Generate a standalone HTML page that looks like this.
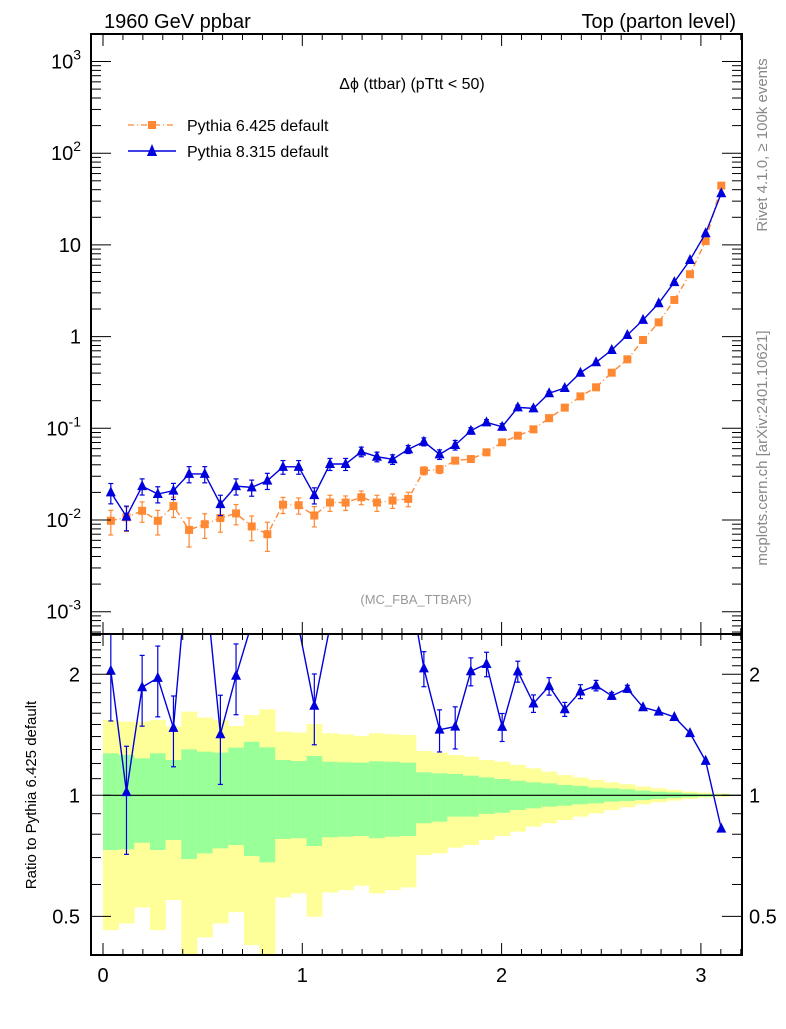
<!DOCTYPE html>
<html><head><meta charset="utf-8"><style>
body{margin:0;background:#fff}
svg text{font-family:"Liberation Sans",sans-serif}
</style></head><body>
<svg id="chart" xmlns="http://www.w3.org/2000/svg" width="786" height="1024" viewBox="0 0 786 1024">
<text x="104" y="28" font-size="20">1960 GeV ppbar</text>
<text x="736" y="28" font-size="20" text-anchor="end">Top (parton level)</text>
<text x="412" y="89" font-size="16" text-anchor="middle">Δϕ (ttbar) (pTtt &lt; 50)</text>
<text x="416" y="604" font-size="13" fill="#999" text-anchor="middle">(MC_FBA_TTBAR)</text>
<text transform="translate(767,145) rotate(-90)" font-size="15" fill="#888" text-anchor="middle">Rivet 4.1.0, ≥ 100k events</text>
<text transform="translate(767,448) rotate(-90)" font-size="15" fill="#888" text-anchor="middle">mcplots.cern.ch [arXiv:2401.10621]</text>
<text transform="translate(36,795) rotate(-90)" font-size="15" text-anchor="middle">Ratio to Pythia 6.425 default</text>
<g id="legend">
 <g>
  <line x1="128" y1="125" x2="176" y2="125" stroke="#ff8833" stroke-width="1.3" stroke-dasharray="6,3,1,3"/>
  <rect x="148" y="121" width="8" height="8" fill="#ff8833"/>
  <text x="187" y="131" font-size="16">Pythia 6.425 default</text>
 </g>
 <g>
  <line x1="128" y1="151" x2="176" y2="151" stroke="#0000dd" stroke-width="1.5"/>
  <polygon points="152,144 157,156 147,156" fill="#0000dd"/>
  <text x="187" y="157" font-size="16">Pythia 8.315 default</text>
 </g>
</g>
<g id="plots"></g>
</svg>
<script>
const nBins = 40;
const xMaxData = Math.PI;
const pythia6 = [0.0098,0.0107,0.0126,0.0098,0.0142,0.0078,0.0090,0.0105,0.0118,0.0085,0.0070,0.0147,0.0145,0.0112,0.0155,0.0155,0.0177,0.0155,0.0163,0.0170,0.0345,0.0357,0.0444,0.0462,0.0547,0.0703,0.0831,0.0975,0.129,0.168,0.223,0.28,0.404,0.565,0.918,1.43,2.51,4.79,11.0,44.3];
const pythia8 = [0.020,0.0109,0.0234,0.0192,0.0209,0.0318,0.0318,0.0149,0.0234,0.0227,0.0269,0.038,0.038,0.0187,0.0408,0.0408,0.0556,0.049,0.0459,0.059,0.0714,0.052,0.0658,0.094,0.116,0.104,0.169,0.165,0.241,0.275,0.404,0.525,0.714,1.04,1.52,2.31,3.93,6.84,13.4,36.6];
const pythia6Err = [0.3,0.3,0.25,0.3,0.25,0.35,0.3,0.3,0.25,0.3,0.35,0.2,0.2,0.25,0.2,0.18,0.17,0.2,0.18,0.18,0.1,0.1,0.08,0.08,0.06,0.05,0.04,0.04,0.03,0.03,0.02,0.02,0.02,0.01,0.01,0.01,0.01,0.01,0.01,0.01];
const pythia8Err = [0.25,0.3,0.2,0.2,0.2,0.2,0.2,0.25,0.2,0.2,0.2,0.17,0.17,0.2,0.15,0.15,0.12,0.12,0.12,0.1,0.1,0.12,0.12,0.08,0.07,0.08,0.06,0.05,0.05,0.04,0.04,0.03,0.02,0.02,0.015,0.01,0.01,0.01,0.01,0.01];
const bandYellowHi = [1.539,1.525,1.525,1.539,1.482,1.615,1.561,1.539,1.487,1.584,1.636,1.440,1.432,1.505,1.427,1.418,1.405,1.427,1.418,1.413,1.289,1.277,1.260,1.248,1.224,1.212,1.190,1.167,1.145,1.123,1.108,1.092,1.077,1.065,1.051,1.041,1.031,1.021,1.015,1.010];
const bandGreenHi = [1.272,1.260,1.236,1.272,1.224,1.301,1.284,1.277,1.314,1.359,1.316,1.224,1.217,1.253,1.212,1.208,1.206,1.215,1.212,1.206,1.141,1.134,1.130,1.119,1.108,1.098,1.087,1.077,1.071,1.061,1.055,1.045,1.041,1.035,1.027,1.021,1.017,1.011,1.008,1.006];
const bandGreenLo = [0.731,0.734,0.762,0.731,0.774,0.694,0.717,0.738,0.752,0.706,0.681,0.779,0.782,0.748,0.786,0.789,0.792,0.782,0.789,0.792,0.852,0.860,0.885,0.885,0.899,0.905,0.919,0.928,0.937,0.942,0.950,0.955,0.964,0.968,0.973,0.979,0.985,0.989,0.992,0.996];
const bandYellowLo = [0.462,0.480,0.526,0.462,0.549,0.38,0.443,0.480,0.512,0.424,0.38,0.557,0.570,0.499,0.573,0.581,0.596,0.570,0.581,0.590,0.710,0.717,0.741,0.752,0.774,0.792,0.812,0.836,0.852,0.868,0.885,0.902,0.919,0.934,0.950,0.961,0.970,0.979,0.987,0.992];
const xTicks = [0,1,2,3];
const mainYTicks = [-3,-2,-1,0,1,2,3];
const mainYLabels = ["10^-3","10^-2","10^-1","1","10","10^2","10^3"];
const ratioTicks = [0.5,1,2];
const ratioLabels = ["0.5","1","2"];

const L=91,R=742,T=34,MB=634,RB=955;
const NS="http://www.w3.org/2000/svg";
const X=v=>103+v*199.3;
const Ym=v=>336.6-Math.log10(v)*91.7;
const Yr=v=>795.3-Math.log10(v)*402;
const g=document.getElementById('plots');
function el(tag,attrs,parent){const e=document.createElementNS(NS,tag);for(const k in attrs)e.setAttribute(k,attrs[k]);(parent||g).appendChild(e);return e;}
const bw=xMaxData/nBins;
const cx=i=>(i+0.5)*bw;

const defs=el('defs',{});
const c1=el('clipPath',{id:'cm'},defs);el('rect',{x:L,y:T,width:R-L,height:MB-T},c1);
const c2=el('clipPath',{id:'cr'},defs);el('rect',{x:L,y:MB,width:R-L,height:RB-MB},c2);

const bands=el('g',{'clip-path':'url(#cr)'});


for(let i=0;i<nBins;i++){
  const x0=X(i*bw),x1=X((i+1)*bw);
  const yb=el('rect',{x:x0,y:Yr(bandYellowHi[i]),width:x1-x0+0.3,height:Yr(bandYellowLo[i])-Yr(bandYellowHi[i]),fill:'#ffff99'},bands);
  
  
  const gb=el('rect',{x:x0,y:Yr(bandGreenHi[i]),width:x1-x0+0.3,height:Yr(bandGreenLo[i])-Yr(bandGreenHi[i]),fill:'#99ff99'},bands);
  
  
}
el('line',{x1:X(0),x2:R,y1:Yr(1),y2:Yr(1),stroke:'#000','stroke-width':1.2});

function series(vals,errs,color,dash,marker,name){
  const grp=el('g',{'clip-path':'url(#cm)'});
  
  
  const pts=vals.map((v,i)=>X(cx(i))+','+Ym(v)).join(' ');
  const pl=el('polyline',{points:pts,fill:'none',stroke:color,'stroke-width':1.4},grp);
  if(dash)pl.setAttribute('stroke-dasharray',dash);
  vals.forEach((v,i)=>{
    const x=X(cx(i)),y1=Ym(v*(1+errs[i])),y2=Ym(v*(1-errs[i]));
    el('line',{x1:x,x2:x,y1:y1,y2:y2,stroke:color,'stroke-width':1.2},grp);
    el('line',{x1:x-2.5,x2:x+2.5,y1:y1,y2:y1,stroke:color,'stroke-width':1.2},grp);
    el('line',{x1:x-2.5,x2:x+2.5,y1:y2,y2:y2,stroke:color,'stroke-width':1.2},grp);
    const y=Ym(v);
    let m;
    if(marker==='sq') m=el('rect',{x:x-4,y:y-4,width:8,height:8,fill:color},grp);
    else m=el('polygon',{points:`${x},${y-6} ${x+5},${y+4} ${x-5},${y+4}`,fill:color},grp);
    
    
  });
}
series(pythia6,pythia6Err,'#ff8833','6,3,1,3','sq','pythia6-series');
series(pythia8,pythia8Err,'#0000dd',null,'tri','pythia8-series');

const rg=el('g',{'clip-path':'url(#cr)'});


const ratio=pythia8.map((v,i)=>v/pythia6[i]);
el('polyline',{points:ratio.map((r,i)=>X(cx(i))+','+Yr(r)).join(' '),fill:'none',stroke:'#0000dd','stroke-width':1.4},rg);
ratio.forEach((r,i)=>{
  const x=X(cx(i)),y=Yr(r);
  if(y<MB+2) return;
  if(pythia8Err[i]>0.015){
    const y1=Yr(r*(1+pythia8Err[i])),y2=Yr(r*(1-pythia8Err[i]));
    el('line',{x1:x,x2:x,y1:y1,y2:y2,stroke:'#0000dd','stroke-width':1.2},rg);
    el('line',{x1:x-2.5,x2:x+2.5,y1:y1,y2:y1,stroke:'#0000dd','stroke-width':1.2},rg);
    el('line',{x1:x-2.5,x2:x+2.5,y1:y2,y2:y2,stroke:'#0000dd','stroke-width':1.2},rg);
  }
  const m=el('polygon',{points:`${x},${y-6} ${x+5},${y+4} ${x-5},${y+4}`,fill:'#0000dd'},rg);
  
  
});

const ax=el('g',{});


el('rect',{x:L,y:T,width:R-L,height:MB-T,fill:'none',stroke:'#000','stroke-width':2},ax);
el('rect',{x:L,y:MB,width:R-L,height:RB-MB,fill:'none',stroke:'#000','stroke-width':2},ax);
for(let k=0;k<=32;k++){
  const v=k*0.1;const x=X(v);if(x>R)break;
  const major=(k%10===0);const len=major?12:6;
  [[T,1],[MB,-1],[MB,1],[RB,-1]].forEach(([y,d])=>el('line',{x1:x,x2:x,y1:y,y2:y+d*len,stroke:'#000','stroke-width':1},ax));
}
xTicks.forEach(v=>{
  const t=el('text',{x:X(v),y:982,'font-size':20,'text-anchor':'middle'},ax);t.textContent=v;
  
  
});
for(let d=-4;d<=3;d++){
  for(let m=1;m<10;m++){
    const v=m*Math.pow(10,d);const y=Ym(v);if(y<T||y>MB)continue;
    const len=m===1?20:10;
    el('line',{x1:L,x2:L+len,y1:y,y2:y,stroke:'#000','stroke-width':1},ax);
    el('line',{x1:R,x2:R-len,y1:y,y2:y,stroke:'#000','stroke-width':1},ax);
  }
}
mainYTicks.forEach((p,i)=>{
  const y=Ym(Math.pow(10,p));const lab=mainYLabels[i];
  const t=el('text',{x:81,y:y+7,'font-size':20,'text-anchor':'end'},ax);
  
  
  if(lab.includes('^')){const [b,e]=lab.split('^');t.textContent=b;const s=el('tspan',{dy:-9,'font-size':14},t);s.textContent=e;}
  else t.textContent=lab;
});
for(let v=0.4;v<=2.5;v=+(v+0.1).toFixed(1)){
  const y=Yr(v);if(y<MB||y>RB)continue;
  const major=[0.5,1,2].includes(v);const len=major?20:10;
  el('line',{x1:L,x2:L+len,y1:y,y2:y,stroke:'#000','stroke-width':1},ax);
  el('line',{x1:R,x2:R-len,y1:y,y2:y,stroke:'#000','stroke-width':1},ax);
}
ratioTicks.forEach((v,i)=>{
  const y=Yr(v)+7;
  const a=el('text',{x:80,y:y,'font-size':20,'text-anchor':'end'},ax);a.textContent=ratioLabels[i];
  
  
  const b=el('text',{x:749,y:y,'font-size':20},ax);b.textContent=ratioLabels[i];
  
  
});
</script>
</body></html>
